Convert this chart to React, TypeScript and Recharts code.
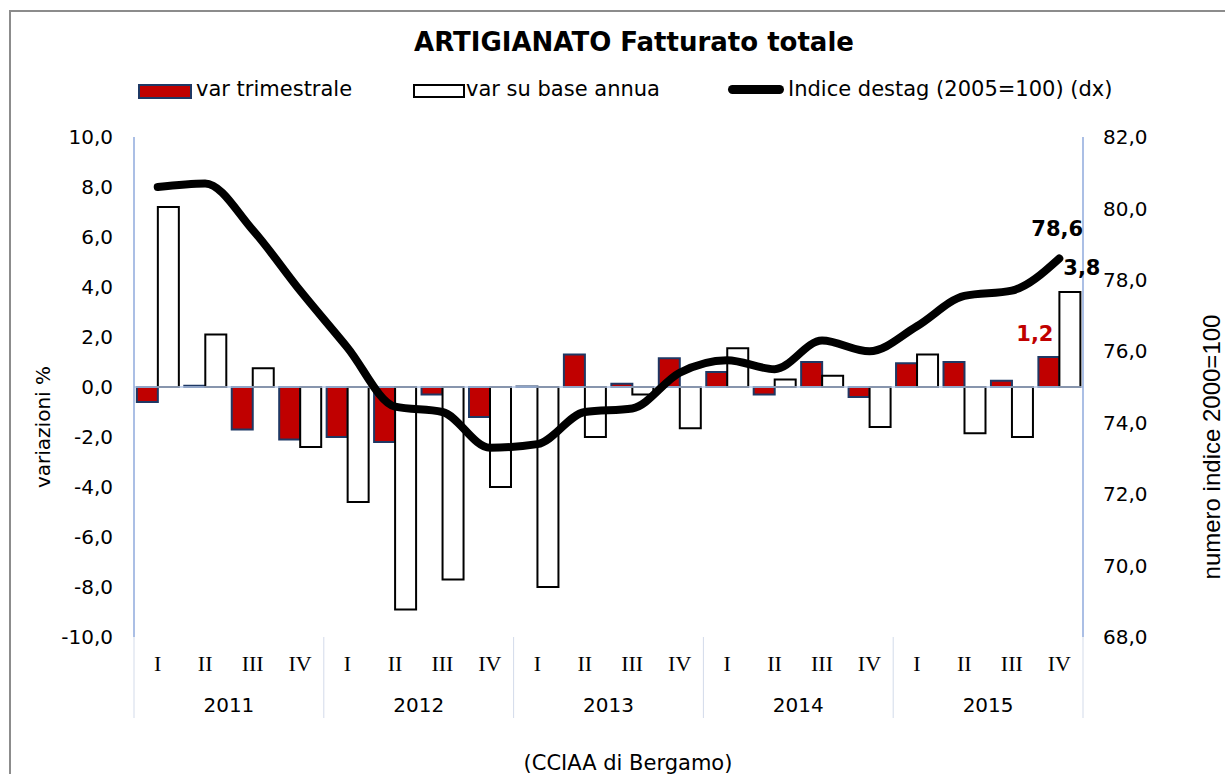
import { ComposedChart, Bar, Line, XAxis, YAxis, ReferenceLine, LabelList } from "recharts"

const years = ["2011", "2012", "2013", "2014", "2015"]
const quarters = ["I", "II", "III", "IV"]

// variazioni % (asse sx)
const varTrimestrale = [
    -0.6, 0.05, -1.7, -2.1,
    -2.0, -2.2, -0.3, -1.2,
    0.02, 1.3, 0.13, 1.15,
    0.6, -0.3, 1.0, -0.4,
    0.95, 1.0, 0.25, 1.2,
]
const varAnnua = [
    7.2, 2.1, 0.75, -2.4,
    -4.6, -8.9, -7.7, -4.0,
    -8.0, -2.0, -0.3, -1.65,
    1.55, 0.3, 0.45, -1.6,
    1.3, -1.85, -2.0, 3.8,
]
// indice destagionalizzato (asse dx)
const indice = [
    80.6, 80.7, 79.4, 77.7,
    76.1, 74.45, 74.3, 73.3,
    73.4, 74.3, 74.4, 75.4,
    75.75, 75.5, 76.3, 76.0,
    76.7, 77.55, 77.7, 78.6,
]

const leftTicks = [-10, -8, -6, -4, -2, 0, 2, 4, 6, 8, 10]
const rightTicks = [68, 70, 72, 74, 76, 78, 80, 82]

const data = years.flatMap((y, yi) =>
    quarters.map((q, qi) => {
        const i = yi * 4 + qi
        return { key: `${y} ${q}`, trim: varTrimestrale[i], annua: varAnnua[i], indice: indice[i] }
    })
)

const W = 1225
const H = 774
const PLOT_LEFT = 134
const PLOT_RIGHT = 1083
const PLOT_TOP = 137
const PLOT_BOTTOM = 637
const BAND = (PLOT_RIGHT - PLOT_LEFT) / data.length
const SANS = "DejaVu Sans, Verdana, sans-serif"
const LAST = data.length - 1

const fmt = (v: number) => v.toFixed(1).replace(".", ",")

function QuarterTick(props: any) {
    const { x, payload } = props
    const [year, q] = String(payload.value).split(" ")
    return (
        <g>
            <text x={x} y={663} textAnchor="middle" dominantBaseline="central"
                fontFamily="Liberation Serif, serif" fontSize={22} fill="#000">{q}</text>
            {q === "I" && (
                <line x1={x - BAND / 2} x2={x - BAND / 2} y1={PLOT_BOTTOM} y2={718} stroke="#d3dbea" />
            )}
            {q === "IV" && year === years[years.length - 1] && (
                <line x1={x + BAND / 2} x2={x + BAND / 2} y1={PLOT_BOTTOM} y2={718} stroke="#d3dbea" />
            )}
            {q === "II" && (
                <text x={x + BAND / 2} y={705} textAnchor="middle" dominantBaseline="central"
                    fontFamily={SANS} fontSize={20} fill="#000">{year}</text>
            )}
        </g>
    )
}

const lastLabel = (dx: number, dy: number, color: string) => (props: any) => {
    const { x, y, width, index, value } = props
    if (index !== LAST) return null
    const cx = Number(x) + (width ? Number(width) / 2 : 0)
    return (
        <text x={cx + dx} y={Number(y) + dy} textAnchor="middle" dominantBaseline="central"
            fontFamily={SANS} fontWeight="bold" fontSize={21} fill={color}>{fmt(Number(value))}</text>
    )
}

export default function App() {
    return (
        <div style={{ position: "absolute", left: 0, top: 0, width: W, height: H, overflow: "hidden", background: "#fff", fontFamily: SANS }}>
            <div style={{ position: "absolute", left: 9, top: 10, width: 1400, height: 1000, border: "2px solid #8c8c8c" }} />

            <div style={{ position: "absolute", left: 0, top: 26, width: 1268, textAlign: "center", fontWeight: "bold", fontSize: 26, lineHeight: "32px" }}>
                ARTIGIANATO Fatturato totale
            </div>

            {/* legenda */}
            <div style={{ position: "absolute", left: 138, top: 84, width: 50, height: 11, background: "#c00000", border: "2px solid #1f3864" }} />
            <div style={{ position: "absolute", left: 196, top: 76, fontSize: 21, lineHeight: "26px" }}>var trimestrale</div>
            <div style={{ position: "absolute", left: 413, top: 84, width: 48, height: 10, background: "#fff", border: "2px solid #000" }} />
            <div style={{ position: "absolute", left: 466, top: 76, fontSize: 21, lineHeight: "26px" }}>var su base annua</div>
            <div style={{ position: "absolute", left: 728, top: 85, width: 56, height: 9, background: "#000", borderRadius: 5 }} />
            <div style={{ position: "absolute", left: 788, top: 76, fontSize: 21, lineHeight: "26px" }}>Indice destag (2005=100) (dx)</div>

            <ComposedChart
                width={W}
                height={H}
                data={data}
                margin={{ top: PLOT_TOP, right: 0, bottom: 0, left: 0 }}
                barGap={0}
                barCategoryGap="6%"
                style={{ position: "absolute", left: 0, top: 0 }}
            >
                <XAxis dataKey="key" height={H - PLOT_BOTTOM} interval={0} axisLine={false} tickLine={false} tick={<QuarterTick />} />
                <YAxis
                    yAxisId="left"
                    width={PLOT_LEFT}
                    domain={[-10, 10]}
                    ticks={leftTicks}
                    tickFormatter={fmt}
                    axisLine={{ stroke: "#8faadc", strokeWidth: 1.5 }}
                    tickLine={false}
                    tickSize={6}
                    tickMargin={15}
                    tick={{ fill: "#000", fontSize: 20, fontFamily: SANS }}
                />
                <YAxis
                    yAxisId="right"
                    orientation="right"
                    width={W - PLOT_RIGHT}
                    domain={[68, 82]}
                    ticks={rightTicks}
                    tickFormatter={fmt}
                    axisLine={{ stroke: "#8faadc", strokeWidth: 1.5 }}
                    tickLine={false}
                    tickSize={6}
                    tickMargin={14}
                    tick={{ fill: "#000", fontSize: 20, fontFamily: SANS, textAnchor: "start" }}
                />
                <ReferenceLine yAxisId="left" y={0} stroke="#b4c7e7" strokeWidth={1.5} />
                <Bar yAxisId="left" dataKey="trim" name="var trimestrale" fill="#c00000" stroke="#1f3864" strokeWidth={2} isAnimationActive={false}>
                    <LabelList dataKey="trim" content={lastLabel(-14, -23, "#c00000")} />
                </Bar>
                <Bar yAxisId="left" dataKey="annua" name="var su base annua" fill="#ffffff" stroke="#000000" strokeWidth={2} isAnimationActive={false}>
                    <LabelList dataKey="annua" content={lastLabel(12, -24, "#000")} />
                </Bar>
                <Line
                    yAxisId="right"
                    type="monotone"
                    dataKey="indice"
                    name="Indice destag (2005=100) (dx)"
                    stroke="#000"
                    strokeWidth={8}
                    strokeLinecap="round"
                    dot={false}
                    isAnimationActive={false}
                >
                    <LabelList dataKey="indice" content={lastLabel(-2, -29, "#000")} />
                </Line>
            </ComposedChart>

            <div style={{ position: "absolute", left: 43, top: 427, transform: "translate(-50%, -50%) rotate(-90deg)", whiteSpace: "nowrap", fontSize: 20 }}>
                variazioni %
            </div>
            <div style={{ position: "absolute", left: 1212, top: 447, transform: "translate(-50%, -50%) rotate(-90deg)", whiteSpace: "nowrap", fontSize: 24, fontFamily: "Liberation Sans, Arial, sans-serif" }}>
                numero indice 2000=100
            </div>
            <div style={{ position: "absolute", left: 0, top: 750, width: 1256, textAlign: "center", fontSize: 21, lineHeight: "26px" }}>
                (CCIAA di Bergamo)
            </div>
        </div>
    )
}
